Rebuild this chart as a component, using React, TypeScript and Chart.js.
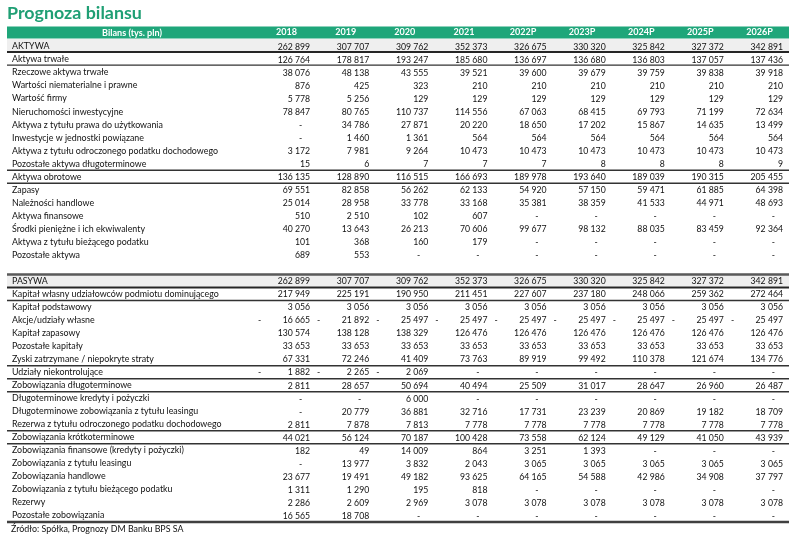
import React, { useEffect, useRef } from 'react';
import { Chart, registerables } from 'chart.js';

Chart.register(...registerables);

const TITLE = 'Prognoza bilansu';
const HEADER = 'Bilans (tys. pln)';
const SOURCE = 'Źródło: Spółka, Prognozy DM Banku BPS SA';

const years = ['2018', '2019', '2020', '2021', '2022P', '2023P', '2024P', '2025P', '2026P'];

const rowLabels = [
  'AKTYWA',
  'Aktywa trwałe',
  'Rzeczowe aktywa trwałe',
  'Wartości niematerialne i prawne',
  'Wartość firmy',
  'Nieruchomości inwestycyjne',
  'Aktywa z tytułu prawa do użytkowania',
  'Inwestycje w jednostki powiązane',
  'Aktywa z tytułu odroczonego podatku dochodowego',
  'Pozostałe aktywa długoterminowe',
  'Aktywa obrotowe',
  'Zapasy',
  'Należności handlowe',
  'Aktywa finansowe',
  'Środki pieniężne i ich ekwiwalenty',
  'Aktywa z tytułu bieżącego podatku',
  'Pozostałe aktywa',
  '',
  'PASYWA',
  'Kapitał własny udziałowców podmiotu dominującego',
  'Kapitał podstawowy',
  'Akcje/udziały własne',
  'Kapitał zapasowy',
  'Pozostałe kapitały',
  'Zyski zatrzymane / niepokryte straty',
  'Udziały niekontrolujące',
  'Zobowiązania długoterminowe',
  'Długoterminowe kredyty i pożyczki',
  'Długoterminowe zobowiązania z tytułu leasingu',
  'Rezerwa z tytułu odroczonego podatku dochodowego',
  'Zobowiązania krótkoterminowe',
  'Zobowiązania finansowe (kredyty i pożyczki)',
  'Zobowiązania z tytułu leasingu',
  'Zobowiązania handlowe',
  'Zobowiązania z tytułu bieżącego podatku',
  'Rezerwy',
  'Pozostałe zobowiązania',
];

// null = "-" in the table
const v2018 = [262899, 126764, 38076, 876, 5778, 78847, null, null, 3172, 15, 136135, 69551, 25014, 510, 40270, 101, 689, null, 262899, 217949, 3056, -16665, 130574, 33653, 67331, -1882, 2811, null, null, 2811, 44021, 182, null, 23677, 1311, 2286, 16565];
const v2019 = [307707, 178817, 48138, 425, 5256, 80765, 34786, 1460, 7981, 6, 128890, 82858, 28958, 2510, 13643, 368, 553, null, 307707, 225191, 3056, -21892, 138128, 33653, 72246, -2265, 28657, null, 20779, 7878, 56124, 49, 13977, 19491, 1290, 2609, 18708];
const v2020 = [309762, 193247, 43555, 323, 129, 110737, 27871, 1361, 9264, 7, 116515, 56262, 33778, 102, 26213, 160, null, null, 309762, 190950, 3056, -25497, 138329, 33653, 41409, -2069, 50694, 6000, 36881, 7813, 70187, 14009, 3832, 49182, 195, 2969, null];
const v2021 = [352373, 185680, 39521, 210, 129, 114556, 20220, 564, 10473, 7, 166693, 62133, 33168, 607, 70606, 179, null, null, 352373, 211451, 3056, -25497, 126476, 33653, 73763, null, 40494, null, 32716, 7778, 100428, 864, 2043, 93625, 818, 3078, null];
const v2022P = [326675, 136697, 39600, 210, 129, 67063, 18650, 564, 10473, 7, 189978, 54920, 35381, null, 99677, null, null, null, 326675, 227607, 3056, -25497, 126476, 33653, 89919, null, 25509, null, 17731, 7778, 73558, 3251, 3065, 64165, null, 3078, null];
const v2023P = [330320, 136680, 39679, 210, 129, 68415, 17202, 564, 10473, 8, 193640, 57150, 38359, null, 98132, null, null, null, 330320, 237180, 3056, -25497, 126476, 33653, 99492, null, 31017, null, 23239, 7778, 62124, 1393, 3065, 54588, null, 3078, null];
const v2024P = [325842, 136803, 39759, 210, 129, 69793, 15867, 564, 10473, 8, 189039, 59471, 41533, null, 88035, null, null, null, 325842, 248066, 3056, -25497, 126476, 33653, 110378, null, 28647, null, 20869, 7778, 49129, null, 3065, 42986, null, 3078, null];
const v2025P = [327372, 137057, 39838, 210, 129, 71199, 14635, 564, 10473, 8, 190315, 61885, 44971, null, 83459, null, null, null, 327372, 259362, 3056, -25497, 126476, 33653, 121674, null, 26960, null, 19182, 7778, 41050, null, 3065, 34908, null, 3078, null];
const v2026P = [342891, 137436, 39918, 210, 129, 72634, 13499, 564, 10473, 9, 205455, 64398, 48693, null, 92364, null, null, null, 342891, 272464, 3056, -25497, 126476, 33653, 134776, null, 26487, null, 18709, 7778, 43939, null, 3065, 37797, null, 3078, null];

const columns = [v2018, v2019, v2020, v2021, v2022P, v2023P, v2024P, v2025P, v2026P];

// styling
const shadedRows = [0, 18];
const ruleLines: [number, number, string][] = [
  [1, 2, '#262626'],
  [2, 1.2, '#333333'],
  [10, 1.5, '#333333'],
  [11, 1.5, '#333333'],
  [18, 2.5, '#5a5a5a'],
  [19, 2, '#262626'],
  [20, 1.5, '#333333'],
  [25, 1.5, '#333333'],
  [26, 1.5, '#333333'],
  [27, 1.5, '#333333'],
  [30, 1.5, '#333333'],
  [31, 1.5, '#333333'],
  [37, 2.5, '#404040'],
];

const FAMILY = 'Lato, "Open Sans", sans-serif';
const GREEN = '#1fa67a';
const TITLE_GREEN = '#1f9f74';
const TEXT = '#111111';

function fitSize(text: string, weight: string, target: number) {
  const c = document.createElement('canvas').getContext('2d')!;
  c.font = `${weight} 20px ${FAMILY}`;
  return (20 * target) / c.measureText(text).width;
}

function fmt(n: number) {
  return Math.abs(n).toString().replace(/\B(?=(\d{3})+(?!\d))/g, ' ');
}

export default function App() {
  const ref = useRef<HTMLCanvasElement>(null);

  useEffect(() => {
    const labelSize = fitSize('Aktywa z tytułu odroczonego podatku dochodowego', 'normal', 206);
    const numSize = fitSize('262 899', 'normal', 32.5);
    const headSize = fitSize('2018', 'bold', 21);
    const titleSize = fitSize(TITLE, 'bold', 135);

    const cells: { x: string; y: string; v: number | null }[] = [];
    years.forEach((yr, c) => {
      columns[c].forEach((v, r) => {
        if (rowLabels[r] !== '') cells.push({ x: yr, y: rowLabels[r], v });
      });
    });

    const tablePlugin = {
      id: 'tablePlugin',
      beforeDraw(chart: any) {
        const { ctx } = chart;
        const xs = chart.scales.x;
        const ys = chart.scales.y;
        const left = 7;
        const right = xs.right;
        const rowH = (ys.bottom - ys.top) / rowLabels.length;
        ctx.save();
        ctx.fillStyle = TITLE_GREEN;
        ctx.font = `bold ${titleSize}px ${FAMILY}`;
        ctx.textAlign = 'left';
        ctx.textBaseline = 'alphabetic';
        ctx.fillText(TITLE, 7, 18.5);

        ctx.fillStyle = GREEN;
        ctx.fillRect(left, 26.5, right - left, 12);
        ctx.fillStyle = '#ffffff';
        ctx.font = `bold ${headSize}px ${FAMILY}`;
        ctx.textAlign = 'center';
        ctx.textBaseline = 'middle';
        ctx.fillText(HEADER, (left + xs.left) / 2, 32.7);

        ctx.fillStyle = '#efefef';
        for (const r of shadedRows) {
          const y = ys.getPixelForValue(r);
          ctx.fillRect(left, y - rowH / 2 - 1, right - left, rowH);
        }
        ctx.restore();
      },
      afterDraw(chart: any) {
        const { ctx } = chart;
        const xs = chart.scales.x;
        const ys = chart.scales.y;
        const left = 7;
        const right = xs.right;
        const rowH = (ys.bottom - ys.top) / rowLabels.length;
        const colW = (xs.right - xs.left) / years.length;
        ctx.save();
        for (const [b, w, col] of ruleLines) {
          const y = ys.top + b * rowH - (b === 1 || b === 2 ? 1 : 0);
          ctx.strokeStyle = col;
          ctx.lineWidth = w;
          ctx.beginPath();
          ctx.moveTo(left, y);
          ctx.lineTo(right, y);
          ctx.stroke();
        }
        const meta = chart.getDatasetMeta(0);
        const data = chart.data.datasets[0].data as any[];
        ctx.fillStyle = TEXT;
        ctx.font = `${numSize}px ${FAMILY}`;
        ctx.textBaseline = 'middle';
        meta.data.forEach((el: any, i: number) => {
          const v = data[i].v;
          const cx = el.x;
          const cy = el.y + 0.5;
          const cellR = cx + colW / 2 - 6;
          const cellL = cx - colW / 2 + 1;
          if (v === null || v === undefined) {
            ctx.textAlign = 'right';
            ctx.fillText('-', cellR - 8, cy);
          } else {
            ctx.textAlign = 'right';
            ctx.fillText(fmt(v), cellR, cy);
            if (v < 0) {
              ctx.textAlign = 'left';
              ctx.fillText('-', cellL, cy);
            }
          }
        });
        ctx.fillStyle = TEXT;
        ctx.font = `${labelSize}px ${FAMILY}`;
        ctx.textAlign = 'left';
        ctx.fillText(SOURCE, 11, 529.5);
        ctx.restore();
      },
    };

    const chart = new Chart(ref.current!, {
      type: 'scatter',
      data: {
        datasets: [
          {
            data: cells as any,
            pointRadius: 0,
            pointHoverRadius: 0,
            showLine: false,
          },
        ],
      },
      options: {
        responsive: false,
        animation: false,
        devicePixelRatio: 1,
        events: [],
        layout: { padding: { left: 12, right: 11, top: 25, bottom: 16 } },
        plugins: {
          legend: { display: false },
          tooltip: { enabled: false },
          title: { display: false },
        },
        scales: {
          x: {
            type: 'category',
            labels: years,
            position: 'top',
            offset: true,
            grid: { display: false, drawTicks: false },
            border: { display: false },
            ticks: {
              autoSkip: false,
              maxRotation: 0,
              color: '#ffffff',
              padding: 2,
              font: { family: FAMILY, size: headSize, weight: 'bold' },
            },
            afterFit: (s: any) => {
              s.height = 15;
            },
          },
          y: {
            type: 'category',
            labels: rowLabels,
            position: 'left',
            offset: true,
            grid: { display: false, drawTicks: false },
            border: { display: false },
            ticks: {
              autoSkip: false,
              crossAlign: 'far',
              color: TEXT,
              padding: 0,
              font: { family: FAMILY, size: labelSize },
            },
            afterFit: (s: any) => {
              s.width = 245;
            },
          },
        },
      } as any,
      plugins: [tablePlugin],
    });
    return () => chart.destroy();
  }, []);

  return (
    <canvas
      ref={ref}
      width={800}
      height={538}
      style={{ position: 'absolute', left: 0, top: 0, display: 'block' }}
    />
  );
}
